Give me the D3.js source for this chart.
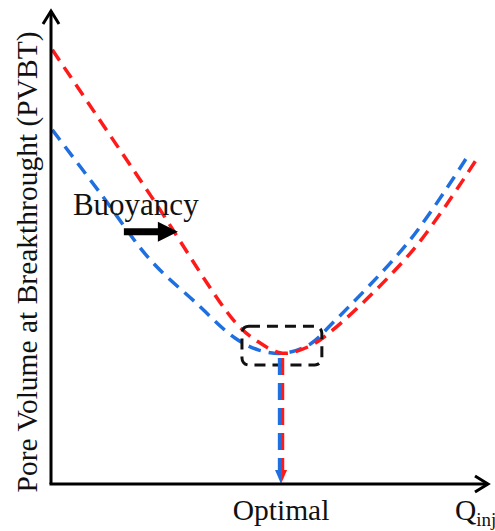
<!DOCTYPE html>
<html>
<head>
<meta charset="utf-8">
<script src="https://cdn.jsdelivr.net/npm/d3@7"></script>
<style>
  body { margin: 0; background: #fff; }
</style>
</head>
<body>
<div id="chart"></div>
<script>
// data (arbitrary units, schematic)
var redQ    = [0.3, 22.6, 42.1, 47.2, 52.6, 58.5, 64.2, 82.5, 97.0];
var redPV   = [91.6, 61.0, 34.0, 30.0, 27.6, 28.9, 32.5, 49.4, 68.6];
var blueQ   = [0.3, 11.2, 22.6, 32.8, 41.9, 47.2, 53.1, 59.0, 64.2, 81.8, 94.8];
var bluePV  = [74.7, 61.4, 47.3, 38.4, 30.8, 28.3, 27.6, 29.5, 34.0, 51.5, 69.0];
var optimalQ = 52.4;
var optimalPV = 26.6;
var boxQ  = [43.5, 61.7];
var boxPV = [25.1, 33.3];
var buoyancyQ = [16.6, 28.9];
var buoyancyPV = 53.2;

var yLabel = "Pore Volume at Breakthrought (PVBT)";
var xTickLabel = "Optimal";

var serif = "'Liberation Serif', 'Times New Roman', 'DejaVu Serif', serif";

var width = 495, height = 531;
var svg = d3.select('#chart').append('svg')
  .attr('width', width)
  .attr('height', height)
  .attr('font-family', serif);

var x = d3.scaleLinear().domain([0, 100]).range([51, 490]);
var y = d3.scaleLinear().domain([0, 100]).range([484, 10]);

var line = d3.line()
  .x(function(d) { return x(d[0]); })
  .y(function(d) { return y(d[1]); })
  .curve(d3.curveCatmullRom.alpha(0.5));

var redData = d3.zip(redQ, redPV);
var blueData = d3.zip(blueQ, bluePV);

// curves
svg.append('path')
  .datum(blueData)
  .attr('d', line)
  .attr('fill', 'none')
  .attr('stroke', '#1f6fe0')
  .attr('stroke-width', 3.5)
  .attr('stroke-dasharray', '13,8');

svg.append('path')
  .datum(redData)
  .attr('d', line)
  .attr('fill', 'none')
  .attr('stroke', '#ff1a1a')
  .attr('stroke-width', 3.5)
  .attr('stroke-dasharray', '13,8');

// dashed rounded box around the minimum
svg.append('rect')
  .attr('x', x(boxQ[0]))
  .attr('y', y(boxPV[1]))
  .attr('width', x(boxQ[1]) - x(boxQ[0]))
  .attr('height', y(boxPV[0]) - y(boxPV[1]))
  .attr('rx', 7)
  .attr('fill', 'none')
  .attr('stroke', '#111')
  .attr('stroke-width', 3)
  .attr('stroke-dasharray', '11,7');

// vertical dashed drop (blue left, red right)
var ox = x(optimalQ);
[['#1f6fe0', -1.6], ['#ff1a1a', 1.6]].forEach(function(c) {
  svg.append('line')
    .attr('x1', ox + c[1]).attr('x2', ox + c[1])
    .attr('y1', y(optimalPV)).attr('y2', y(0) - 14)
    .attr('stroke', c[0])
    .attr('stroke-width', 3.2)
    .attr('stroke-dasharray', '17,8');
});
svg.append('path')
  .attr('d', 'M' + (ox - 6) + ',' + (y(0) - 14) + 'L' + ox + ',' + (y(0) - 14) + 'L' + ox + ',' + y(0) + 'Z')
  .attr('fill', '#1f6fe0');
svg.append('path')
  .attr('d', 'M' + ox + ',' + (y(0) - 14) + 'L' + (ox + 6) + ',' + (y(0) - 14) + 'L' + ox + ',' + y(0) + 'Z')
  .attr('fill', '#ff1a1a');

// axes
svg.append('line')
  .attr('x1', x(0)).attr('y1', y(0))
  .attr('x2', x(0)).attr('y2', y(100) + 1)
  .attr('stroke', '#000').attr('stroke-width', 3);
svg.append('line')
  .attr('x1', x(0) - 1.5).attr('y1', y(0))
  .attr('x2', x(100) - 2).attr('y2', y(0))
  .attr('stroke', '#000').attr('stroke-width', 3);
svg.append('path')
  .attr('d', 'M' + (x(0) - 8) + ',' + (y(100) + 14) + 'L' + x(0) + ',' + (y(100) + 1) + 'L' + (x(0) + 8) + ',' + (y(100) + 14))
  .attr('fill', 'none').attr('stroke', '#000').attr('stroke-width', 3)
  .attr('stroke-linejoin', 'miter');
svg.append('path')
  .attr('d', 'M' + (x(100) - 15) + ',' + (y(0) - 8) + 'L' + (x(100) - 2) + ',' + y(0) + 'L' + (x(100) - 15) + ',' + (y(0) + 8))
  .attr('fill', 'none').attr('stroke', '#000').attr('stroke-width', 3);

// buoyancy arrow
var ax0 = x(buoyancyQ[0]), ax1 = x(buoyancyQ[1]), ay = y(buoyancyPV);
svg.append('line')
  .attr('x1', ax0).attr('x2', ax1 - 18)
  .attr('y1', ay).attr('y2', ay)
  .attr('stroke', '#000').attr('stroke-width', 7);
svg.append('path')
  .attr('d', 'M' + (ax1 - 20) + ',' + (ay - 10) + 'L' + ax1 + ',' + ay + 'L' + (ax1 - 20) + ',' + (ay + 10) + 'Z')
  .attr('fill', '#000');

svg.append('text')
  .attr('x', x(5.0))
  .attr('y', y(56.8))
  .attr('font-size', 31)
  .attr('fill', '#111')
  .text('Buoyancy');

// labels
svg.append('text')
  .attr('transform', 'translate(37,' + 262 + ') rotate(-90)')
  .attr('text-anchor', 'middle')
  .attr('font-size', 29.5)
  .attr('fill', '#111')
  .text(yLabel);

svg.append('text')
  .attr('x', ox)
  .attr('y', 520)
  .attr('text-anchor', 'middle')
  .attr('font-size', 29.5)
  .attr('fill', '#111')
  .text(xTickLabel);

var q = svg.append('text')
  .attr('x', 455)
  .attr('y', 520)
  .attr('font-size', 29.5)
  .attr('fill', '#111');
q.append('tspan').text('Q');
q.append('tspan').attr('font-size', 19).attr('dy', 6).text('inj');
</script>
</body>
</html>
